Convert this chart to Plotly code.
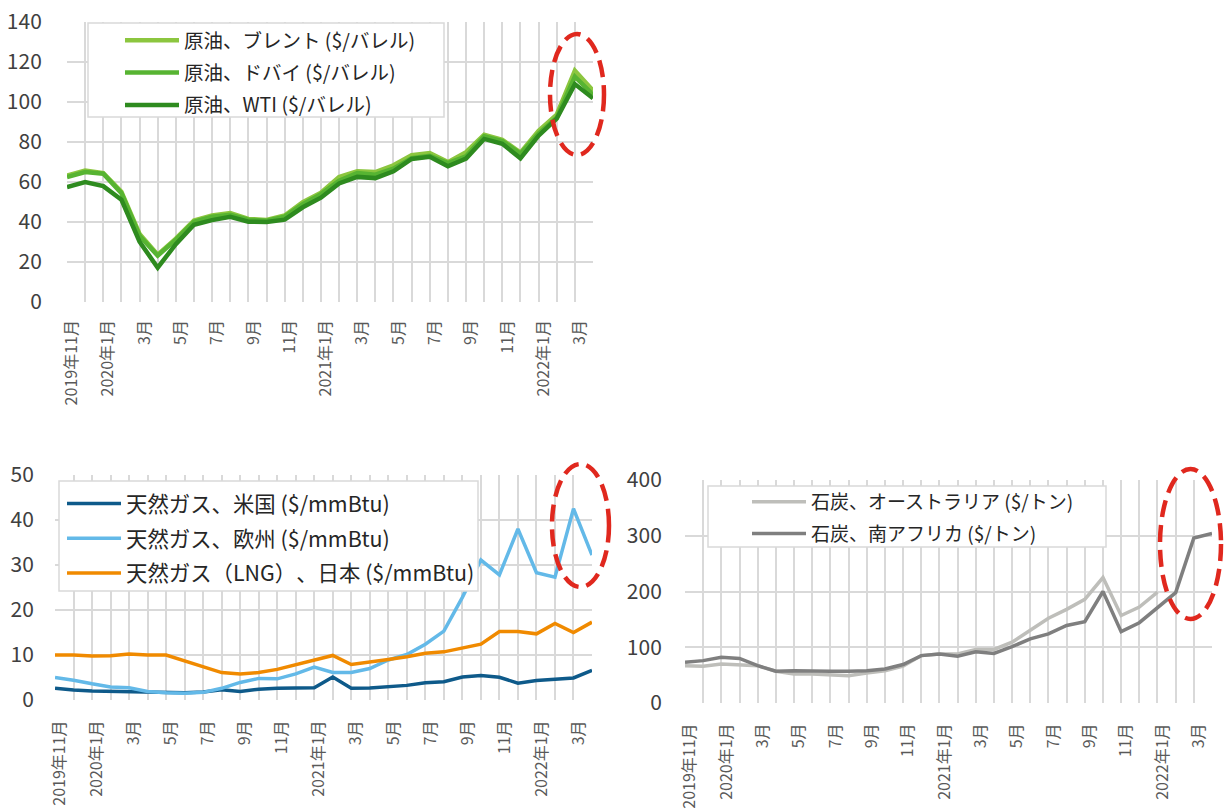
import plotly.graph_objects as go

# ---------------- data ----------------
months = ["2019-11", "2019-12", "2020-01", "2020-02", "2020-03", "2020-04", "2020-05", "2020-06",
          "2020-07", "2020-08", "2020-09", "2020-10", "2020-11", "2020-12", "2021-01", "2021-02",
          "2021-03", "2021-04", "2021-05", "2021-06", "2021-07", "2021-08", "2021-09", "2021-10",
          "2021-11", "2021-12", "2022-01", "2022-02", "2022-03", "2022-04"]
tick_labels = ["2019年11月", "", "2020年1月", "", "3月", "", "5月", "", "7月", "", "9月", "", "11月", "",
               "2021年1月", "", "3月", "", "5月", "", "7月", "", "9月", "", "11月", "",
               "2022年1月", "", "3月", ""]

oil_brent = [63.1, 65.6, 64.3, 55.0, 33.9, 23.5, 31.5, 40.6, 43.1, 44.3, 41.4, 40.9, 43.1, 49.8, 54.5,
             62.3, 65.2, 64.8, 68.2, 73.2, 74.3, 69.8, 74.8, 83.5, 81.0, 74.5, 85.5, 93.5, 115.5, 105.5]
oil_dubai = [62.3, 64.8, 64.0, 54.3, 33.0, 23.0, 31.0, 40.0, 42.5, 43.5, 41.0, 40.5, 42.5, 48.8, 53.8,
             60.5, 64.3, 63.5, 66.5, 71.8, 73.0, 69.3, 72.7, 82.7, 80.3, 74.0, 84.0, 92.0, 112.5, 103.5]
oil_wti = [57.3, 59.8, 57.8, 51.0, 30.0, 17.0, 28.8, 38.5, 40.8, 42.4, 40.0, 39.8, 41.0, 47.2, 52.0,
           59.1, 62.4, 61.8, 65.2, 71.4, 72.5, 67.7, 71.6, 81.4, 79.0, 71.7, 83.0, 91.5, 108.8, 101.7]

gas_us = [2.6, 2.2, 2.0, 1.9, 1.8, 1.7, 1.75, 1.6, 1.8, 2.3, 1.9, 2.4, 2.6, 2.6, 2.7, 5.1, 2.6, 2.65,
          2.9, 3.25, 3.85, 4.05, 5.1, 5.45, 5.05, 3.75, 4.35, 4.65, 4.9, 6.6]
gas_europe = [5.0, 4.4, 3.6, 2.9, 2.7, 1.9, 1.6, 1.5, 1.7, 2.6, 3.9, 4.8, 4.7, 5.8, 7.3, 6.1, 6.1, 7.0,
              8.9, 10.1, 12.4, 15.3, 22.8, 31.1, 27.8, 38.0, 28.3, 27.3, 42.5, 32.2]
gas_japan = [10.0, 10.0, 9.8, 9.85, 10.2, 10.0, 10.0, 8.7, 7.4, 6.1, 5.8, 6.1, 6.8, 7.8, 9.0, 9.9, 7.9,
             8.4, 9.0, 9.6, 10.4, 10.7, 11.5, 12.4, 15.2, 15.2, 14.7, 17.0, 15.0, 17.3]

coal_australia = [67, 66, 70, 68, 67, 57, 52, 52, 51, 49, 54, 58, 66, 85, 88, 88, 96, 96, 109, 130,
                  152, 168, 186, 225, 157, 172, 199, None, None, None]
coal_south_africa = [73, 76, 82, 80, 67, 57, 58, 57, 57, 57, 58, 61, 69, 85, 88, 84, 92, 89, 101, 115,
                     124, 139, 146, 200, 128, 144, 170, 198, 296, 304]

names_oil = ["原油、ブレント ($/バレル)", "原油、ドバイ ($/バレル)", "原油、WTI ($/バレル)"]
names_gas = ["天然ガス、米国 ($/mmBtu)", "天然ガス、欧州 ($/mmBtu)", "天然ガス（LNG）\u200b、日本 ($/mmBtu)"]
names_coal = ["石炭、オーストラリア ($/トン)", "石炭、南アフリカ ($/トン)"]

# ---------------- styling ----------------
W, H = 1224, 809
FONT = "Noto Sans CJK JP"
GRID = "#d9d9d9"


def px(x):
    return x / W


def py(y):
    return 1 - y / H


fig = go.Figure()

series = [
    (oil_brent, names_oil[0], "#8CC63F", 4.5, "x", "y", "legend"),
    (oil_dubai, names_oil[1], "#57B432", 4.5, "x", "y", "legend"),
    (oil_wti, names_oil[2], "#2E8B1F", 4.5, "x", "y", "legend"),
    (gas_us, names_gas[0], "#0E5A8A", 3.5, "x2", "y2", "legend2"),
    (gas_europe, names_gas[1], "#63B9E8", 3.5, "x2", "y2", "legend2"),
    (gas_japan, names_gas[2], "#F08A00", 3.5, "x2", "y2", "legend2"),
    (coal_australia, names_coal[0], "#BEBEBA", 3.5, "x3", "y3", "legend3"),
    (coal_south_africa, names_coal[1], "#7F7F7F", 3.5, "x3", "y3", "legend3"),
]
for i, (vals, name, color, w, xa, ya, lg) in enumerate(series):
    fig.add_trace(go.Scatter(
        x=months, y=vals, name=name, mode="lines",
        line=dict(color=color, width=w),
        xaxis=xa, yaxis=ya, legend=lg, legendgroup=f"g{i}",
        connectgaps=False, hoverinfo="skip",
    ))


def xaxis_cfg(x0, x1, standoff):
    return dict(
        domain=[px(x0), px(x1)], type="category", range=[0, len(months) - 1],
        tickmode="array", tickvals=months, ticktext=tick_labels, tickangle=-90,
        showgrid=True, gridcolor=GRID, gridwidth=1.5, zeroline=False,
        ticks="outside", ticklen=standoff, tickcolor="rgba(0,0,0,0)",
        ticklabelshift=5,
        tickfont=dict(family=FONT, size=16, color="#595959"), showline=False,
        automargin=False,
    )


def yaxis_cfg(y_top, y_bot, rng, dtick, anchor, standoff):
    return dict(
        domain=[py(y_bot), py(y_top)], range=rng, dtick=dtick, anchor=anchor,
        showgrid=True, gridcolor=GRID, gridwidth=1.5, zeroline=False,
        ticks="outside", ticklen=standoff, tickcolor="rgba(0,0,0,0)",
        tickfont=dict(family=FONT, size=21, color="#404040"), showline=False,
        automargin=False,
    )


legend_common = dict(
    bgcolor="rgba(0,0,0,0)", borderwidth=0, xanchor="left", yanchor="top",
    itemclick=False, itemdoubleclick=False,
)

fig.update_layout(
    width=W, height=H, margin=dict(l=0, r=0, t=0, b=0, autoexpand=False),
    paper_bgcolor="white", plot_bgcolor="white",
    font=dict(family=FONT, color="#404040"),
    xaxis=dict(**xaxis_cfg(67, 593, 11), anchor="y"),
    yaxis=yaxis_cfg(21.7, 301.7, [0, 140], 20, "x", 20),
    xaxis2=dict(**xaxis_cfg(55, 592, 13), anchor="y2"),
    yaxis2=yaxis_cfg(475, 700, [0, 50], 10, "x2", 16),
    xaxis3=dict(**xaxis_cfg(685, 1212, 13), anchor="y3"),
    yaxis3=yaxis_cfg(480, 703, [0, 400], 100, "x3", 18),
    legend=dict(**legend_common, x=px(120), y=py(21), tracegroupgap=4,
                font=dict(family=FONT, size=19.5, color="#262626"), itemwidth=54),
    legend2=dict(**legend_common, x=px(62), y=py(483), tracegroupgap=4,
                 font=dict(family=FONT, size=21.4, color="#262626"), itemwidth=54),
    legend3=dict(**legend_common, x=px(747), y=py(483), tracegroupgap=4,
                 font=dict(family=FONT, size=19, color="#262626"), itemwidth=54),
    showlegend=True,
)

shapes = []
# legend boxes
for (x0, y0, x1, y1) in [(88, 23, 444, 117), (59, 481, 478, 591), (708, 486, 1106, 547)]:
    shapes.append(dict(type="rect", xref="paper", yref="paper", x0=px(x0), x1=px(x1), y0=py(y1), y1=py(y0),
                       fillcolor="white", line=dict(color=GRID, width=1.5), layer="above"))
# red dashed ellipses
for (x0, y0, x1, y1) in [(550, 34, 604, 155), (552, 464, 609, 587), (1160, 469, 1221, 619)]:
    shapes.append(dict(type="circle", xref="paper", yref="paper", x0=px(x0), x1=px(x1), y0=py(y1), y1=py(y0),
                       line=dict(color="#E0281E", width=4.5, dash="17px,8px"), layer="above"))
fig.update_layout(shapes=shapes)

fig.write_html("out.html")
